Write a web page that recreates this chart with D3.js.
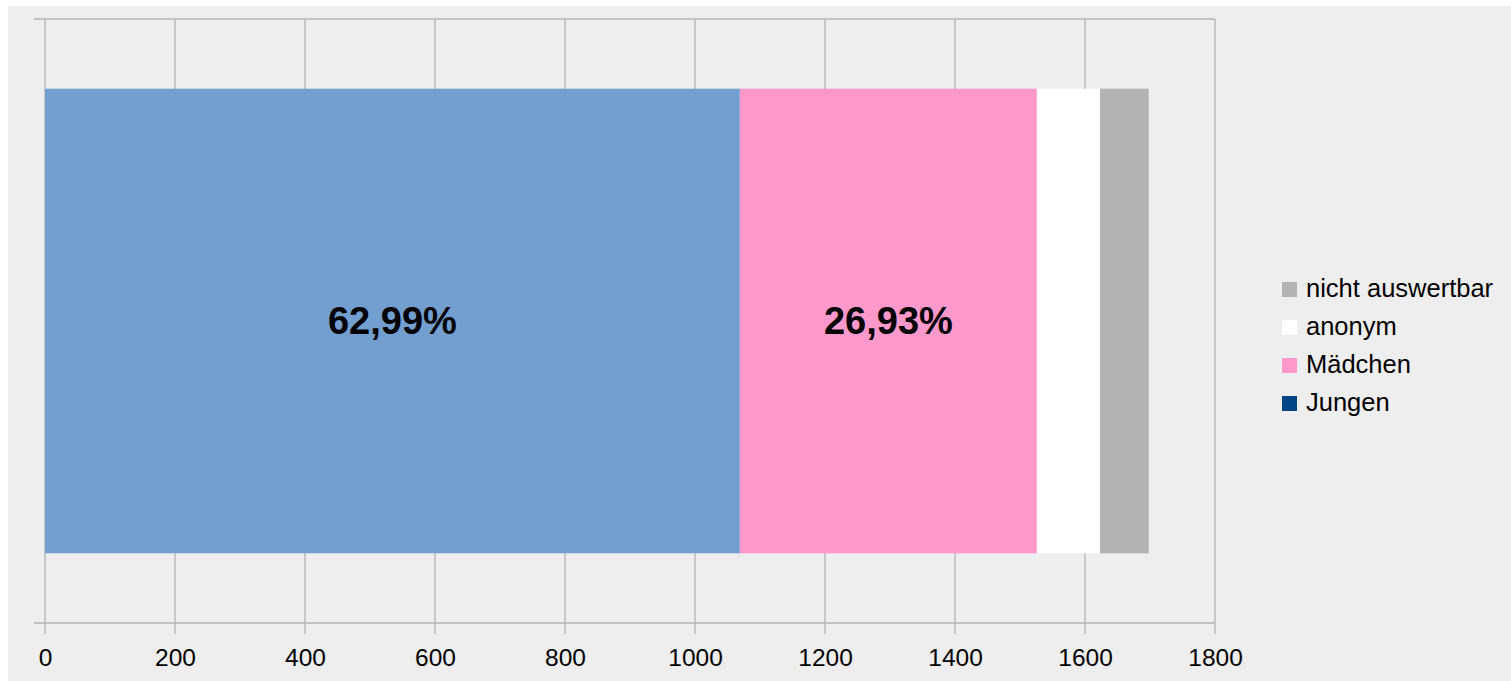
<!DOCTYPE html>
<html>
<head>
<meta charset="utf-8">
<script src="https://cdn.jsdelivr.net/npm/d3@7"></script>
<style>
  html, body { margin: 0; padding: 0; background: #ffffff; }
  svg { display: block; font-family: "Liberation Sans", Arial, sans-serif; }
</style>
</head>
<body>
<svg id="chart" width="1511" height="681"></svg>
<script>
// Data
const seriesNames = ["Jungen", "Mädchen", "anonym", "nicht auswertbar"];
const seriesValues = [1069, 457, 97, 75];
const seriesColors = ["#729fcf", "#ff99cc", "#ffffff", "#b3b3b3"];
const legendColors = ["#004586", "#ff99cc", "#ffffff", "#b3b3b3"];
const valueLabels = ["62,99%", "26,93%", "", ""];
const categories = [""];
const xTicks = [0, 200, 400, 600, 800, 1000, 1200, 1400, 1600, 1800];

const svg = d3.select("#chart");
const W = 1511, H = 681;

svg.append("rect").attr("x", 8).attr("y", 6).attr("width", W - 8).attr("height", H - 6).attr("fill", "#eeeeee");

const plot = { left: 45, right: 1215, top: 19, bottom: 623 };

const x = d3.scaleLinear().domain([0, 1800]).range([plot.left, plot.right]);
const y = d3.scaleBand().domain(categories).range([plot.top, plot.bottom]).paddingInner(0).paddingOuter(0.15);

const gridColor = "#b3b3b3";

// vertical grid lines
svg.append("g").selectAll("line").data(xTicks).join("line")
  .attr("x1", d => x(d)).attr("x2", d => x(d))
  .attr("y1", plot.top).attr("y2", plot.bottom + 11)
  .attr("stroke", gridColor).attr("stroke-width", 1.3);

// horizontal boundary lines (category axis ticks)
svg.append("g").selectAll("line").data([plot.top, plot.bottom]).join("line")
  .attr("x1", plot.left - 11).attr("x2", plot.right)
  .attr("y1", d => d).attr("y2", d => d)
  .attr("stroke", gridColor).attr("stroke-width", 1.3);

// stacked bars
let acc = 0;
const segs = seriesValues.map((v, i) => {
  const s = { name: seriesNames[i], x0: acc, x1: acc + v, color: seriesColors[i], label: valueLabels[i] };
  acc += v;
  return s;
});

svg.append("g").selectAll("rect").data(segs).join("rect")
  .attr("x", d => x(d.x0))
  .attr("width", d => x(d.x1) - x(d.x0))
  .attr("y", y(categories[0]))
  .attr("height", y.bandwidth())
  .attr("fill", d => d.color);

svg.append("g").selectAll("text").data(segs.filter(d => d.label)).join("text")
  .attr("x", d => (x(d.x0) + x(d.x1)) / 2)
  .attr("y", y(categories[0]) + y.bandwidth() / 2 + 13)
  .attr("text-anchor", "middle")
  .attr("font-size", 38)
  .attr("font-weight", "bold")
  .attr("fill", "#000")
  .text(d => d.label);

// x axis labels
const xAxis = d3.axisBottom(x).tickValues(xTicks).tickSize(0).tickPadding(0).tickFormat(d3.format("d"));
const ax = svg.append("g").attr("transform", `translate(0,${plot.bottom})`).call(xAxis);
ax.select(".domain").remove();
ax.selectAll("text").attr("font-size", 24.5).attr("fill", "#000").attr("dy", 0).attr("y", 43)
  .attr("font-family", "Liberation Sans, Arial, sans-serif");

// legend (reverse order)
const legendItems = seriesNames.map((n, i) => ({ name: n, color: legendColors[i] })).reverse();
const lg = svg.append("g").attr("transform", "translate(1282,297)");
const items = lg.selectAll("g").data(legendItems).join("g")
  .attr("transform", (d, i) => `translate(0,${i * 38})`);
items.append("rect").attr("x", 0).attr("y", -15).attr("width", 15).attr("height", 15).attr("fill", d => d.color);
items.append("text").attr("x", 24).attr("y", 0).attr("font-size", 25.5).attr("fill", "#000").text(d => d.name);
</script>
</body>
</html>
